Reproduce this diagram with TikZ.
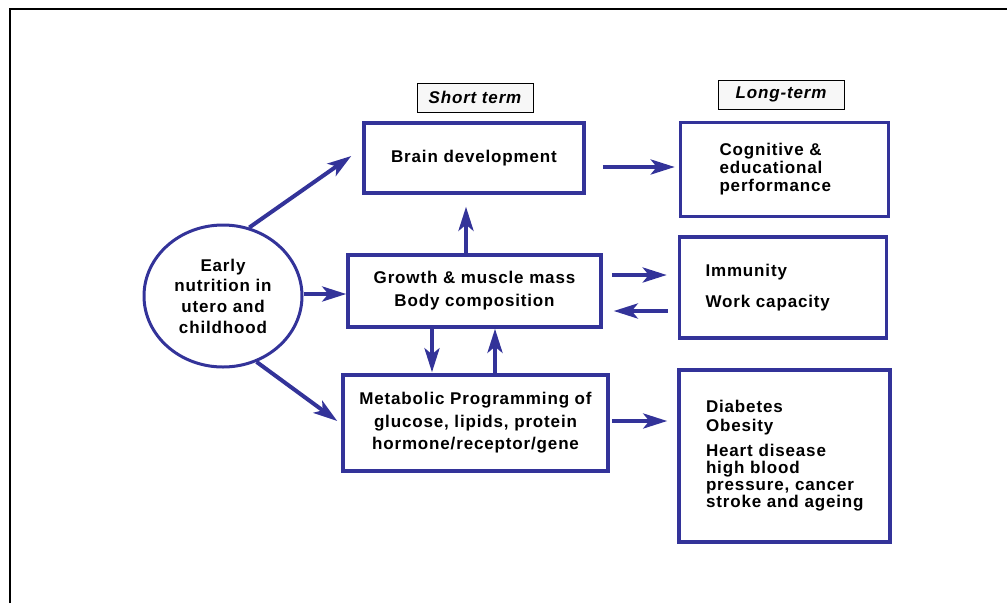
\documentclass[tikz,border=0pt]{standalone}
\usepackage{fontspec}
\setmainfont{Liberation Sans}[LetterSpace=5]
\usetikzlibrary{arrows.meta,shapes.geometric}
\definecolor{diagblue}{RGB}{51,51,153}

\tikzset{
  box/.style={draw=diagblue, line width=3.5pt, rectangle, align=center,
    font=\bfseries\fontsize{17}{22.5}\selectfont},
  effect/.style={box, align=left, inner ysep=0pt},
  termlabel/.style={draw=black, line width=0.8pt, fill=black!3,
    font=\bfseries\itshape\fontsize{17}{20}\selectfont},
  arr/.style={draw=diagblue, line width=4pt,
    -{Stealth[length=24pt,width=15pt,inset=6pt]}}
}

\begin{document}
\begin{tikzpicture}[x=1pt,y=-1pt]
            \useasboundingbox (0,0) rectangle (1007,603);
            \draw[line width=2pt] (10,603) -- (10,9) -- (1007,9);

            \node[termlabel, minimum width=116pt, minimum height=29pt] (short) at (475,97.5) {Short term};
            \node[termlabel, minimum width=126pt, minimum height=29pt] (long) at (781,94.5) {Long-term};

            \node[draw=diagblue, line width=3pt, ellipse, minimum width=158pt, minimum height=142pt,
                  inner sep=0pt, align=center, font=\bfseries\fontsize{17}{20.7}\selectfont]
                  (early) at (223,296) {Early\\nutrition in\\utero and\\childhood};

            \node[box, minimum width=220pt, minimum height=70pt] (brain) at (474,158) {Brain development};
            \node[box, minimum width=253pt, minimum height=72pt, font=\bfseries\fontsize{17}{23}\selectfont]
                  (growth) at (474.5,291) {Growth \& muscle mass\\Body composition};
            \node[box, minimum width=265pt, minimum height=96pt] (metabolic) at (475.5,423)
                  {Metabolic Programming of\\glucose, lipids, protein\\hormone/receptor/gene};

            \node[effect, inner xsep=39pt, text width=130pt, minimum height=94pt,
                  font=\bfseries\fontsize{17}{18}\selectfont]
                  (cognitive) at (784.5,169.5) {Cognitive \&\\educational\\performance};
            \node[effect, inner xsep=26pt, text width=155pt, minimum height=101pt,
                  font=\bfseries\fontsize{17}{18}\selectfont]
                  (immune) at (783,287.5) {Immunity\\[13pt]Work capacity};
            \node[effect, inner xsep=27pt, text width=157pt, minimum height=172pt,
                  font=\bfseries\fontsize{17}{17}\selectfont]
                  (disease) at (784.5,456) {Diabetes\\[2pt]Obesity\\[8pt]Heart disease\\high blood\\
                  \mbox{pressure, cancer}\\\mbox{stroke and ageing}};

            % arrows out of early nutrition
            \draw[arr] (early.69) -- ([xshift=-11pt,yshift=2pt]brain.west);
            \draw[arr] ([yshift=2pt]early.east) -- ([yshift=2pt]early.east -| growth.west);
            \draw[arr] (early.-63) -- ([xshift=-4pt,yshift=2pt]metabolic.west);

            % short term links
            \draw[arr, shorten >=12pt] ([xshift=-8.5pt]growth.north) -- ([xshift=-8.5pt]growth.north |- brain.south);
            \draw[arr, shorten >=1pt] ([xshift=-42.5pt]growth.south) -- ([xshift=-42.5pt]growth.south |- metabolic.north);
            \draw[arr] ([xshift=19.5pt]metabolic.north) -- ([xshift=19.5pt]metabolic.north |- growth.south);

            % long term links
            \draw[arr, shorten <=17pt, shorten >=4pt] ([yshift=-9pt]brain.east) -- ([yshift=-9pt]brain.east -| cognitive.west);
            \draw[arr, shorten <=9pt, shorten >=11pt] ([yshift=16pt]growth.east) -- ([yshift=16pt]growth.east -| immune.west);
            \draw[arr, shorten <=10pt, shorten >=11pt] ([yshift=-23.5pt]immune.west) -- ([yshift=-23.5pt]immune.west -| growth.east);
            \draw[arr, shorten <=2pt, shorten >=10pt] ([yshift=2pt]metabolic.east) -- ([yshift=2pt]metabolic.east -| disease.west);
        \end{tikzpicture}
\end{document}
